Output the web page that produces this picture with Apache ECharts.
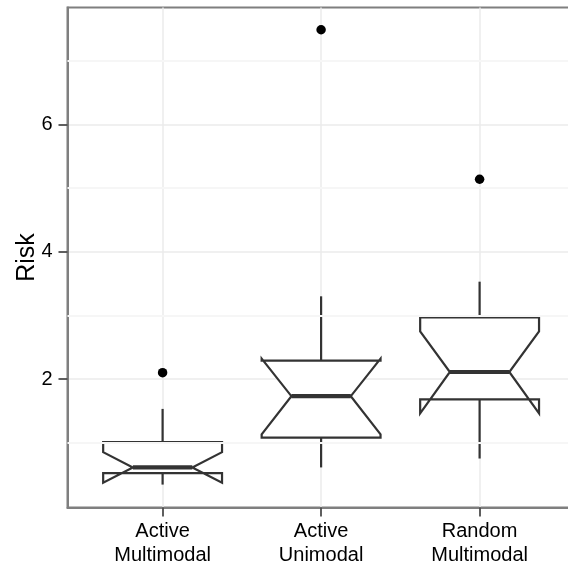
<!DOCTYPE html>
<html>
<head>
<meta charset="utf-8">
<script src="https://cdn.jsdelivr.net/npm/echarts@6/dist/echarts.min.js"></script>
<style>
  html, body { margin: 0; padding: 0; background: #ffffff; }
  #chart { width: 568px; height: 563px; }
</style>
</head>
<body>
<div id="chart"></div>
<script>
// Groups on the x axis (one notched box each)
const categories = ['Active\nMultimodal', 'Active\nUnimodal', 'Random\nMultimodal'];

// Five-number summaries per group
const whiskerLow  = [0.34, 0.61, 0.75];
const lowerHinge  = [0.52, 1.08, 1.68];
const medians     = [0.61, 1.73, 2.11];
const upperHinge  = [1.01, 2.29, 2.97];
const whiskerHigh = [1.53, 3.30, 3.53];

// Notch extents (median +/- 1.58 * IQR / sqrt(n))
const notchLow  = [0.37, 1.13, 1.46];
const notchHigh = [0.85, 2.32, 2.75];

// Points beyond the whiskers: [group index, value]
const outliers = [[0, 2.10], [1, 7.49], [2, 5.14]];

// Axis ticks
const xTicks = [1, 2, 3];
const yTicks = [2, 4, 6];
const yMinorTicks = [1, 3, 5, 7];

const FONT = "'Liberation Sans', Arial, Helvetica, sans-serif";
const INK = '#333333';
const BOX_WIDTH = 0.75;

const boxData = categories.map((c, i) => [
  i + 1, whiskerLow[i], lowerHinge[i], medians[i], upperHinge[i],
  whiskerHigh[i], notchLow[i], notchHigh[i]
]);
const outlierData = outliers.map(o => [o[0] + 1, o[1]]);

function renderNotchedBox(params, api) {
  const x = api.value(0);
  const left = x - BOX_WIDTH / 2;
  const right = x + BOX_WIDTH / 2;
  const indent = BOX_WIDTH / 4;
  const P = (xx, yy) => api.coord([xx, yy]);

  const wLo = api.value(1), q1 = api.value(2), med = api.value(3);
  const q3 = api.value(4), wHi = api.value(5);
  const nLo = api.value(6), nHi = api.value(7);

  const outline = [
    P(left, q3), P(left, nHi), P(left + indent, med), P(left, nLo), P(left, q1),
    P(right, q1), P(right, nLo), P(right - indent, med), P(right, nHi), P(right, q3)
  ];
  const lineStyle = { stroke: INK, lineWidth: 2.2, fill: null };
  return {
    type: 'group',
    children: [
      { type: 'line', shape: { x1: P(x, q3)[0], y1: P(x, q3)[1], x2: P(x, wHi)[0], y2: P(x, wHi)[1] }, style: lineStyle },
      { type: 'line', shape: { x1: P(x, q1)[0], y1: P(x, q1)[1], x2: P(x, wLo)[0], y2: P(x, wLo)[1] }, style: lineStyle },
      { type: 'polygon', shape: { points: outline },
        style: { fill: '#ffffff', stroke: INK, lineWidth: 2.2, lineJoin: 'miter' } },
      { type: 'line',
        shape: { x1: P(left + indent, med)[0], y1: P(left + indent, med)[1],
                 x2: P(right - indent, med)[0], y2: P(right - indent, med)[1] },
        style: { stroke: INK, lineWidth: 4.2, fill: null } }
    ]
  };
}

const chart = echarts.init(document.getElementById('chart'));
chart.setOption({
  animation: false,
  textStyle: { fontFamily: FONT },
  grid: {
    left: 67.5, top: 7.5, width: 507.2, height: 500,
    outerBoundsMode: 'none',
    show: true, borderColor: '#7f7f7f', borderWidth: 2
  },
  xAxis: {
    type: 'value', min: 0.4, max: 3.6,
    axisLine: { show: true, onZero: false, lineStyle: { color: '#7f7f7f', width: 2 } },
    axisTick: { show: true, customValues: xTicks, length: 9, lineStyle: { color: '#4d4d4d', width: 1.8 } },
    axisLabel: {
      customValues: xTicks,
      formatter: v => categories[Math.round(v) - 1],
      color: '#000000', fontSize: 20, lineHeight: 24, margin: 12, fontFamily: FONT
    },
    splitLine: { show: true, lineStyle: { color: '#ebebeb', width: 1.5 } }
  },
  yAxis: {
    type: 'value', min: -0.02, max: 7.84,
    name: 'Risk', nameLocation: 'middle', nameRotate: 90, nameGap: 28, nameMoveOverlap: false,
    nameTextStyle: { color: '#000000', fontSize: 25, fontFamily: FONT },
    axisLine: { show: true, onZero: false, lineStyle: { color: '#7f7f7f', width: 2 } },
    axisTick: { show: true, customValues: yTicks, length: 9, lineStyle: { color: '#4d4d4d', width: 1.8 } },
    axisLabel: { customValues: yTicks, color: '#000000', fontSize: 20, margin: 15, fontFamily: FONT },
    splitLine: { show: true, lineStyle: { color: '#ebebeb', width: 1.5 } }
  },
  series: [
    {
      // minor horizontal grid lines
      type: 'line', data: [], z: 1, silent: true,
      markLine: {
        silent: true, symbol: ['none', 'none'], label: { show: false },
        lineStyle: { color: '#f6f6f6', width: 2, type: 'solid' },
        data: yMinorTicks.map(v => ({ yAxis: v }))
      }
    },
    {
      type: 'custom', z: 3,
      renderItem: renderNotchedBox,
      encode: { x: 0, y: [1, 2, 3, 4, 5, 6, 7] },
      data: boxData
    },
    {
      type: 'scatter', z: 4,
      symbol: 'circle', symbolSize: 9.5,
      itemStyle: { color: '#000000', opacity: 1 },
      data: outlierData
    }
  ]
});
</script>
</body>
</html>
